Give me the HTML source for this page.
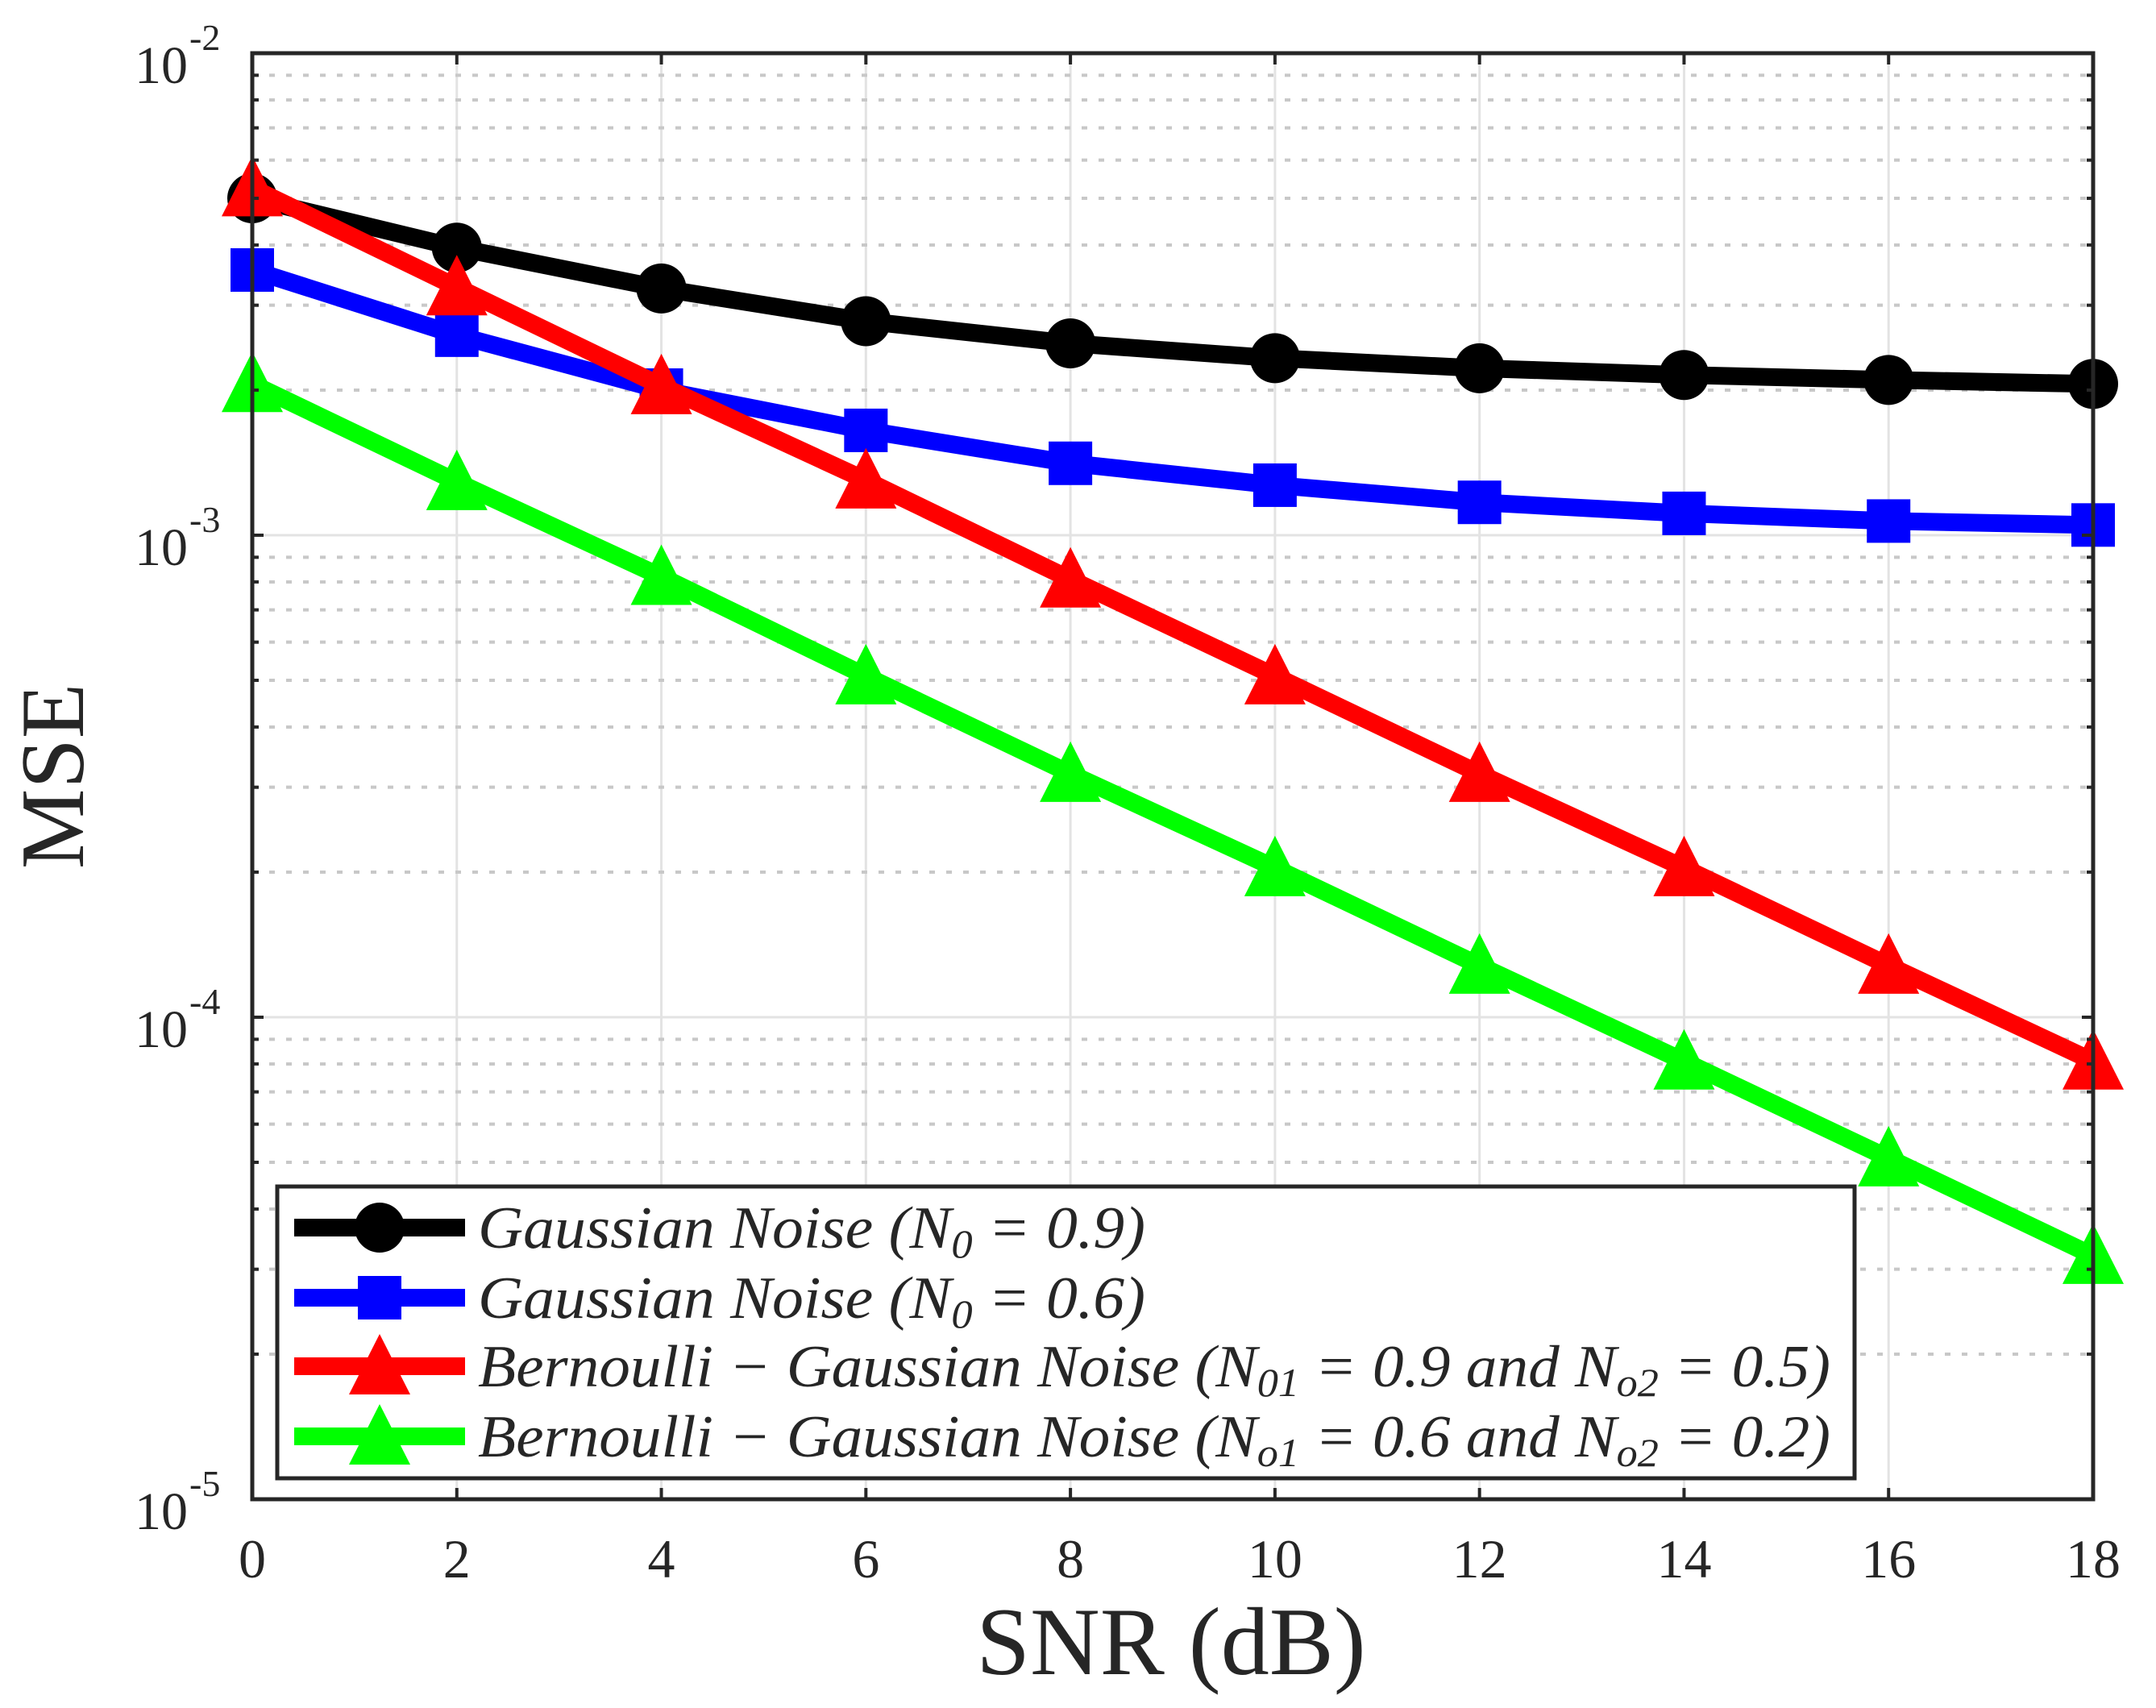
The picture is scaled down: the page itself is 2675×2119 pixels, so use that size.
<!DOCTYPE html>
<html><head><meta charset="utf-8"><style>
html,body{margin:0;padding:0;background:#fff}
svg{display:block}
text{font-family:"Liberation Serif",serif;fill:#262626}
</style></head><body>
<svg id="chart" width="2675" height="2119" viewBox="0 0 2675 2119" xmlns="http://www.w3.org/2000/svg">
<rect width="2675" height="2119" fill="#fff"/>
<g id="grid"></g>
<g id="series"></g>
<g id="axes"></g>
<g id="legend"></g>
</svg>
<script>
const snr = [0, 2, 4, 6, 8, 10, 12, 14, 16, 18];
const gauss09 = [5.0e-3, 3.95e-3, 3.25e-3, 2.78e-3, 2.5e-3, 2.33e-3, 2.22e-3, 2.15e-3, 2.1e-3, 2.06e-3];
const gauss06 = [3.55e-3, 2.6e-3, 2.0e-3, 1.65e-3, 1.41e-3, 1.27e-3, 1.17e-3, 1.11e-3, 1.07e-3, 1.05e-3];
const bern1 = [5.25e-3, 3.27e-3, 2.04e-3, 1.3e-3, 8.1e-4, 5.1e-4, 3.2e-4, 2.04e-4, 1.28e-4, 8.1e-5];
const bern2 = [2.06e-3, 1.29e-3, 8.2e-4, 5.1e-4, 3.2e-4, 2.04e-4, 1.28e-4, 8.1e-5, 5.1e-5, 3.2e-5];
const xTicks = [0, 2, 4, 6, 8, 10, 12, 14, 16, 18];
const yDecades = [-5, -4, -3, -2];
const legendLabels = [
 ['Gaussian Noise (N', '0', ' = 0.9)', ''],
 ['Gaussian Noise (N', '0', ' = 0.6)', ''],
 ['Bernoulli − Gaussian Noise (N', '01', ' = 0.9 and N', 'o2', ' = 0.5)'],
 ['Bernoulli − Gaussian Noise (N', 'o1', ' = 0.6 and N', 'o2', ' = 0.2)']
];

const NS = 'http://www.w3.org/2000/svg';
const L = 313, R = 2597, T = 66, B = 1860;
function xs(v){ return L + (v - 0) / 18 * (R - L); }
function ys(v){ return T + (-2 - Math.log10(v)) / 3 * (B - T); }
function mk(tag, attrs, parent){
  const e = document.createElementNS(NS, tag);
  for (const k in attrs) e.setAttribute(k, attrs[k]);
  parent.appendChild(e);
  return e;
}
const grid = document.getElementById('grid');
const axes = document.getElementById('axes');
const ser = document.getElementById('series');
const leg = document.getElementById('legend');

xTicks.forEach(t => {
  if (t === 0 || t === 18) return;
  const l = mk('line', {x1: xs(t), x2: xs(t), y1: T, y2: B, stroke: '#e3e3e3', 'stroke-width': 3}, grid);
  
  
});
yDecades.forEach(d => {
  if (d < -2) {
    for (let m = 2; m <= 9; m++) {
      const y = ys(m * Math.pow(10, d));
      const l = mk('line', {x1: L, x2: R, y1: y, y2: y, stroke: '#c8c8c8', 'stroke-width': 4, 'stroke-dasharray': '7 14'}, grid);
      
      
    }
  }
  if (d > -5 && d < -2) {
    const y = ys(Math.pow(10, d));
    const l = mk('line', {x1: L, x2: R, y1: y, y2: y, stroke: '#e3e3e3', 'stroke-width': 3}, grid);
    
    
  }
});

const box = mk('rect', {x: L, y: T, width: R - L, height: B - T, fill: 'none', stroke: '#262626', 'stroke-width': 5}, axes);


xTicks.forEach(t => {
  const x = xs(t);
  mk('line', {x1: x, x2: x, y1: B, y2: B - 14, stroke: '#262626', 'stroke-width': 4}, axes);
  mk('line', {x1: x, x2: x, y1: T, y2: T + 14, stroke: '#262626', 'stroke-width': 4}, axes);
  const tx = mk('text', {x: x, y: 1957, 'font-size': 68, 'text-anchor': 'middle'}, axes);
  tx.textContent = String(t);
  
  
});
yDecades.forEach(d => {
  const y = ys(Math.pow(10, d));
  mk('line', {x1: L, x2: L + 14, y1: y, y2: y, stroke: '#262626', 'stroke-width': 4}, axes);
  mk('line', {x1: R, x2: R - 14, y1: y, y2: y, stroke: '#262626', 'stroke-width': 4}, axes);
  if (d < -2) for (let m = 2; m <= 9; m++) {
    const yy = ys(m * Math.pow(10, d));
    mk('line', {x1: L, x2: L + 8, y1: yy, y2: yy, stroke: '#262626', 'stroke-width': 4}, axes);
    mk('line', {x1: R, x2: R - 8, y1: yy, y2: yy, stroke: '#262626', 'stroke-width': 4}, axes);
  }
  const tx = mk('text', {x: 233, y: y + 37, 'font-size': 66, 'text-anchor': 'end'}, axes);
  tx.textContent = '10';
  
  
  const ex = mk('text', {x: 235, y: y - 4, 'font-size': 46, 'text-anchor': 'start'}, axes);
  ex.textContent = '-' + Math.abs(d);
  
  
});
const xl = mk('text', {x: 1453, y: 2077, 'font-size': 120, 'text-anchor': 'middle'}, axes);
xl.textContent = 'SNR (dB)';


const yl = mk('text', {x: 0, y: 0, 'font-size': 112, 'text-anchor': 'middle', transform: 'translate(103,963) rotate(-90)'}, axes);
yl.textContent = 'MSE';



function marker(kind, cx, cy, color, parent, sx){
  sx = sx || 1;
  if (kind === 'circle') return mk('ellipse', {cx: cx, cy: cy, rx: 31 * sx, ry: 31, fill: '#000'}, parent);
  if (kind === 'square') return mk('rect', {x: cx - 27 * sx, y: cy - 27, width: 54 * sx, height: 54, fill: color}, parent);
  return mk('polygon', {points: `${cx},${cy - 40} ${cx + 38 * sx},${cy + 35} ${cx - 38 * sx},${cy + 35}`, fill: color}, parent);
}
const seriesDefs = [
  {data: gauss09, color: '#000000', kind: 'circle', name: 'gaussian-0.9'},
  {data: gauss06, color: '#0000ff', kind: 'square', name: 'gaussian-0.6'},
  {data: bern1, color: '#ff0000', kind: 'triangle', name: 'bernoulli-gaussian-0.9-0.5'},
  {data: bern2, color: '#00ff00', kind: 'triangle', name: 'bernoulli-gaussian-0.6-0.2'}
];
[0, 1, 3, 2].forEach(i => {
  const s = seriesDefs[i];
  const g = mk('g', {}, ser);
  
  
  const pts = snr.map((v, j) => xs(v) + ',' + ys(s.data[j])).join(' ');
  const pl = mk('polyline', {points: pts, fill: 'none', stroke: s.color, 'stroke-width': 22, 'stroke-linejoin': 'round'}, g);
  
  
  snr.forEach((v, j) => {
    const m = marker(s.kind, xs(v), ys(s.data[j]), s.color, g);
    
    
  });
});

const lb = mk('rect', {x: 344, y: 1472, width: 1957, height: 362, fill: '#fff', stroke: '#262626', 'stroke-width': 5}, leg);


const rowY = [1523, 1610, 1695, 1782];
const rowW = [828, 828, 1678, 1678];
seriesDefs.forEach((s, i) => {
  const g = mk('g', {}, leg);
  
  
  const y = rowY[i];
  mk('line', {x1: 365, x2: 577, y1: y, y2: y, stroke: s.color, 'stroke-width': 22}, g);
  marker(s.kind, 471, y, s.color, g);
  const t = mk('text', {x: 593, y: y + 25, 'font-size': 74, 'font-style': 'italic', 'font-family': '"Liberation Serif", serif', textLength: rowW[i], lengthAdjust: 'spacingAndGlyphs', fill: '#000'}, g);
  
  
  const lab = legendLabels[i];
  lab.forEach((part, k) => {
    if (!part) return;
    const sp = mk('tspan', {}, t);
    if (k % 2 === 1) { sp.setAttribute('font-size', 50); sp.setAttribute('dy', 12); }
    else if (k > 0) { sp.setAttribute('dy', -12); }
    sp.textContent = part;
  });
});
</script>
</body></html>
